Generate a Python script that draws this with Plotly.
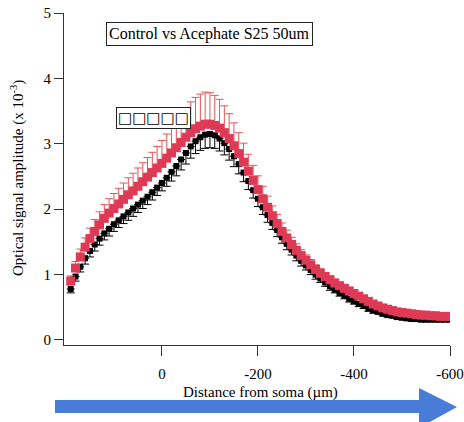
import plotly.graph_objects as go

# distance from soma (um), sampled every 10 um
distance = list(range(190, -610, -10))

acephate = [0.90,1.10,1.27,1.42,1.55,1.66,1.76,1.86,1.94,2.01,
            2.08,2.15,2.22,2.28,2.35,2.42,2.49,2.56,2.63,2.70,
            2.78,2.86,2.94,3.02,3.10,3.17,3.23,3.27,3.30,3.30,
            3.28,3.24,3.17,3.08,2.97,2.85,2.72,2.58,2.44,2.30,
            2.16,2.03,1.90,1.78,1.66,1.56,1.46,1.37,1.29,1.22,
            1.15,1.08,1.02,0.97,0.92,0.87,0.83,0.79,0.75,0.71,
            0.67,0.63,0.59,0.55,0.52,0.49,0.47,0.45,0.43,0.42,
            0.41,0.40,0.39,0.38,0.38,0.37,0.37,0.36,0.36,0.36]

acephate_err = [0.08,0.10,0.12,0.14,0.16,0.18,0.20,0.21,0.22,0.23,
                0.24,0.25,0.26,0.27,0.28,0.29,0.30,0.31,0.33,0.35,
                0.37,0.39,0.41,0.43,0.45,0.47,0.48,0.49,0.49,0.48,
                0.46,0.44,0.41,0.38,0.35,0.32,0.29,0.26,0.23,0.21,
                0.19,0.17,0.15,0.14,0.13,0.12,0.11,0.10,0.09,0.08,
                0.08,0.07,0.07,0.06,0.06,0.06,0.05,0.05,0.05,0.05,
                0.04,0.04,0.04,0.04,0.04,0.04,0.03,0.03,0.03,0.03,
                0.03,0.03,0.03,0.03,0.03,0.03,0.03,0.03,0.03,0.03]

control = [0.78,0.97,1.12,1.25,1.36,1.46,1.55,1.63,1.70,1.77,
           1.83,1.89,1.95,2.01,2.07,2.13,2.19,2.26,2.33,2.40,
           2.48,2.57,2.66,2.76,2.86,2.96,3.04,3.10,3.14,3.15,
           3.13,3.08,3.01,2.92,2.81,2.69,2.56,2.43,2.29,2.16,
           2.03,1.91,1.79,1.68,1.57,1.47,1.38,1.29,1.21,1.14,
           1.07,1.00,0.94,0.88,0.82,0.77,0.72,0.68,0.63,0.59,
           0.55,0.52,0.48,0.45,0.43,0.40,0.38,0.37,0.35,0.34,
           0.33,0.32,0.32,0.31,0.31,0.31,0.31,0.31,0.31,0.31]

control_err = [0.06,0.07,0.08,0.09,0.09,0.10,0.10,0.10,0.11,0.11,
               0.11,0.11,0.12,0.12,0.12,0.12,0.12,0.12,0.12,0.12,
               0.13,0.14,0.15,0.16,0.17,0.18,0.19,0.20,0.21,0.21,
               0.20,0.19,0.18,0.17,0.16,0.15,0.14,0.13,0.12,0.12,
               0.11,0.11,0.10,0.10,0.09,0.09,0.08,0.08,0.08,0.07,
               0.07,0.07,0.06,0.06,0.06,0.05,0.05,0.05,0.05,0.04,
               0.04,0.04,0.04,0.04,0.03,0.03,0.03,0.03,0.03,0.03,
               0.03,0.03,0.03,0.03,0.03,0.03,0.03,0.03,0.03,0.03]

x_ticks = [0, -200, -400, -600]
x_tick_labels = ["0", "-200", "-400", "-600"]
y_ticks = [0, 1, 2, 3, 4, 5]

SERIF = "Liberation Serif, Times New Roman, serif"
RED = "rgb(222,58,86)"
RED_BAR = "rgb(232,84,84)"

fig = go.Figure()
fig.add_trace(go.Scatter(
    x=distance, y=control, mode="markers",
    marker=dict(symbol="square", size=6, color="black"),
    error_y=dict(type="data", symmetric=False, array=[0]*len(control_err),
                 arrayminus=control_err, color="black", thickness=1, width=4),
    showlegend=False))
fig.add_trace(go.Scatter(
    x=distance, y=acephate, mode="markers",
    marker=dict(symbol="square", size=9, color=RED),
    error_y=dict(type="data", symmetric=False, array=acephate_err,
                 arrayminus=[0]*len(acephate_err), color=RED_BAR, thickness=1, width=4),
    showlegend=False))

L, R, T, B = 64, 450, 13, 345
W, H = R - L, B - T
def px(x): return (x - L) / W
def py(y): return (B - y) / H

arrow = (f"M {px(55)} {py(400)} L {px(419)} {py(400)} L {px(419)} {py(388)} "
         f"L {px(457)} {py(407)} L {px(419)} {py(428)} L {px(419)} {py(413)} "
         f"L {px(55)} {py(413)} Z")

fig.update_layout(
    width=464, height=422,
    margin=dict(l=L, r=464 - R, t=T, b=422 - B, autoexpand=False),
    paper_bgcolor="white", plot_bgcolor="white",
    font=dict(family=SERIF, size=15, color="black"),
    xaxis=dict(range=[204, -600], tickvals=x_ticks, ticktext=x_tick_labels,
               ticks="outside", ticklen=10, ticklabelstandoff=5, automargin=False,
               tickcolor="#333", showline=True, linecolor="#333", linewidth=1,
               showgrid=False, zeroline=False, tickfont=dict(size=15, family=SERIF)),
    yaxis=dict(range=[-0.077, 5.0], tickvals=y_ticks, ticks="outside", ticklen=9,
               automargin=False,
               tickcolor="#333", showline=True, linecolor="#333", linewidth=1,
               showgrid=False, zeroline=False, tickfont=dict(size=15, family=SERIF)),
    shapes=[dict(type="path", xref="paper", yref="paper", path=arrow,
                 fillcolor="rgb(72,124,214)", line=dict(width=0), layer="above")],
    annotations=[
        dict(text="Control vs Acephate S25 50um", xref="paper", yref="paper",
             x=px(209), y=py(33.5), xanchor="center", yanchor="middle", showarrow=False,
             font=dict(family=SERIF, size=16), bordercolor="#222", borderwidth=1,
             borderpad=2, bgcolor="white"),
        dict(text="□□□□□", xref="paper", yref="paper",
             x=px(153), y=py(118), xanchor="center", yanchor="middle", showarrow=False,
             font=dict(family="DejaVu Sans", size=15), bordercolor="#222", borderwidth=1,
             borderpad=1, bgcolor="white"),
        dict(text="Distance from soma (µm)", xref="paper", yref="paper",
             x=px(260), y=py(392), xanchor="center", yanchor="middle", showarrow=False,
             font=dict(family=SERIF, size=15)),
        dict(text="Optical signal amplitude (x 10<sup>-3</sup>)", xref="paper", yref="paper",
             x=px(17), y=py(178), xanchor="center", yanchor="middle", showarrow=False,
             textangle=-90, font=dict(family=SERIF, size=15)),
    ],
)

fig.write_html("out.html")
